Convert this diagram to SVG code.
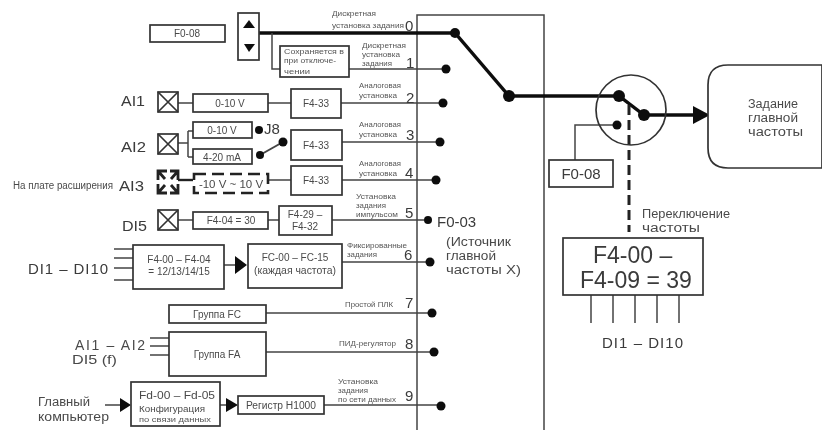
<svg xmlns="http://www.w3.org/2000/svg" width="822" height="430" viewBox="0 0 822 430">
<style>
text{font-family:"Liberation Sans",Arial,sans-serif;fill:#3a3a3a}
.s{font-size:7.5px;fill:#555}
.m{font-size:10px;fill:#4a4a4a}
.l{font-size:15px;fill:#3a3a3a}
.c{font-size:12px;fill:#4a4a4a}
.b{fill:#fff;stroke:#333;stroke-width:1.7}
.d{fill:#fff;stroke:#222;stroke-width:2.6;stroke-dasharray:12 6}
.w{fill:none;stroke:#444;stroke-width:1.5}
.t{fill:none;stroke:#111;stroke-width:3.4}
.x{fill:none;stroke:#333;stroke-width:1.7}
.dot{fill:#111}
.a{fill:#111}
</style>
<defs><filter id="soft" x="0" y="0" width="100%" height="100%"><feGaussianBlur stdDeviation="0.55"/></filter></defs>
<rect width="822" height="430" fill="#fff"/>
<g filter="url(#soft)">
<g id="connectors">
<path class="w" d="M417 430V15H544V430"/>
<path class="t" d="M256 33H455L509 96H619L644 115H696"/>
<path class="a" d="M693 106L710 115L693 124Z"/>
<path class="w" d="M272 33V69H280M349 69H445M178 103H193M268 103H291M341 103H443M178 143H188M188 131V157M188 131H193M188 157H193M342 142H440M268 180H291M342 180H436M178 220H193M268 220H279M332 220H428M114 249H133M114 258H133M114 268H133M114 280H133M224 265H237M342 262H430M266 313H432M150 338H169M150 346H169M150 355H169M266 352H434M105 405H120M220 405H228M324 405H441M617 125H575V160"/>
<path class="w" d="M591 295V323M613 295V323M635 295V323M657 295V323M679 295V323"/>
<path class="w" style="stroke-width:2" d="M260 155L283 142"/>
<path d="M178 180H193" fill="none" stroke="#222" stroke-width="2.4"/>
<path d="M629 105V232" fill="none" stroke="#222" stroke-width="3" stroke-dasharray="10 5"/>
<path class="a" d="M235 256L247 265L235 274ZM120 398L131 405L120 412ZM226 398L238 405L226 412Z"/>
<circle class="x" cx="631" cy="110" r="35"/>
</g>
<g id="dots">
<circle class="dot" cx="455" cy="33" r="5"/><circle class="dot" cx="446" cy="69" r="4.5"/><circle class="dot" cx="443" cy="103" r="4.5"/><circle class="dot" cx="440" cy="142" r="4.5"/><circle class="dot" cx="436" cy="180" r="4.5"/><circle class="dot" cx="428" cy="220" r="4"/><circle class="dot" cx="430" cy="262" r="4.5"/><circle class="dot" cx="432" cy="313" r="4.5"/><circle class="dot" cx="434" cy="352" r="4.5"/><circle class="dot" cx="441" cy="406" r="4.5"/>
<circle class="dot" cx="509" cy="96" r="6"/><circle class="dot" cx="619" cy="96" r="6"/><circle class="dot" cx="644" cy="115" r="6"/><circle class="dot" cx="617" cy="125" r="4.5"/>
<circle class="dot" cx="259" cy="130" r="4"/><circle class="dot" cx="260" cy="155" r="4"/><circle class="dot" cx="283" cy="142" r="4.5"/>
</g>
<g id="n-f008a"><rect class="b" x="150" y="25" width="75" height="17"/><text class="m" x="187" y="37" text-anchor="middle">F0-08</text></g>
<g id="n-updown"><rect class="b" x="238" y="13" width="21" height="47"/><path class="a" d="M249 20L255 28H243ZM249 52L244 44H255Z"/></g>
<g id="n-keep"><rect class="b" x="280" y="46" width="69" height="31"/><text class="s" x="284" y="54" textLength="60" lengthAdjust="spacingAndGlyphs">Сохраняется в</text><text class="s" x="284" y="63" textLength="52" lengthAdjust="spacingAndGlyphs">при отключе-</text><text class="s" x="284" y="74" textLength="26" lengthAdjust="spacingAndGlyphs">чении</text></g>
<g id="n-ai1"><text class="l" x="121" y="106" textLength="24" lengthAdjust="spacingAndGlyphs">AI1</text><rect class="b" x="158" y="92" width="20" height="20"/><path class="x" d="M158 92L178 112M178 92L158 112"/></g>
<g id="n-v1"><rect class="b" x="193" y="94" width="75" height="18"/><text class="m" x="230" y="107" text-anchor="middle">0-10 V</text></g>
<g id="n-f433a"><rect class="b" x="291" y="89" width="50" height="29"/><text class="m" x="316" y="107" text-anchor="middle">F4-33</text></g>
<g id="n-ai2"><text class="l" x="121" y="152" textLength="25" lengthAdjust="spacingAndGlyphs">AI2</text><rect class="b" x="158" y="134" width="20" height="20"/><path class="x" d="M158 134L178 154M178 134L158 154"/></g>
<g id="n-v2"><rect class="b" x="193" y="122" width="59" height="16"/><text class="m" x="222" y="134" text-anchor="middle">0-10 V</text></g>
<g id="n-ma"><rect class="b" x="193" y="149" width="59" height="15"/><text class="m" x="222" y="161" text-anchor="middle">4-20 mA</text></g>
<g id="n-j8"><text class="l" x="264" y="134">J8</text></g>
<g id="n-f433b"><rect class="b" x="291" y="130" width="51" height="30"/><text class="m" x="316" y="149" text-anchor="middle">F4-33</text></g>
<g id="n-ai3"><text class="m" x="13" y="189" textLength="100" lengthAdjust="spacingAndGlyphs">На плате расширения</text><text class="l" x="119" y="191" textLength="25" lengthAdjust="spacingAndGlyphs">AI3</text><path d="M158 180V171H167M178 180V171H170M158 184V193H167M178 184V193H170M158 171L165 179M178 171L171 179M158 193L165 185M178 193L171 185" fill="none" stroke="#222" stroke-width="2.8"/></g>
<g id="n-v3"><rect class="d" x="194" y="174" width="74" height="19"/><text class="m" x="231" y="188" text-anchor="middle" style="font-size:11.5px">-10 V ~ 10 V</text></g>
<g id="n-f433c"><rect class="b" x="291" y="166" width="51" height="29"/><text class="m" x="316" y="184" text-anchor="middle">F4-33</text></g>
<g id="n-di5"><text class="l" x="122" y="231" textLength="25" lengthAdjust="spacingAndGlyphs">DI5</text><rect class="b" x="158" y="210" width="20" height="20"/><path class="x" d="M158 210L178 230M178 210L158 230"/></g>
<g id="n-f404"><rect class="b" x="193" y="212" width="75" height="17"/><text class="m" x="231" y="224" text-anchor="middle">F4-04 = 30</text></g>
<g id="n-f429"><rect class="b" x="279" y="206" width="53" height="29"/><text class="m" x="305" y="218" text-anchor="middle">F4-29 –</text><text class="m" x="305" y="230" text-anchor="middle">F4-32</text></g>
<g id="n-di"><text class="l" x="28" y="274" textLength="80" lengthAdjust="spacing">DI1 – DI10</text></g>
<g id="n-f400"><rect class="b" x="133" y="245" width="91" height="44"/><text class="m" x="179" y="263" text-anchor="middle">F4-00 – F4-04</text><text class="m" x="179" y="275" text-anchor="middle">= 12/13/14/15</text></g>
<g id="n-fc"><rect class="b" x="248" y="244" width="94" height="44"/><text class="m" x="295" y="261" text-anchor="middle">FC-00 – FC-15</text><text class="m" x="295" y="274" text-anchor="middle" textLength="82" lengthAdjust="spacingAndGlyphs">(каждая частота)</text></g>
<g id="n-gfc"><rect class="b" x="169" y="305" width="97" height="18"/><text class="m" x="217" y="318" text-anchor="middle">Группа FC</text></g>
<g id="n-aidi"><text class="c" x="75" y="350" textLength="70" lengthAdjust="spacing" style="font-size:14px">AI1 – AI2</text><text class="c" x="72" y="364" textLength="45" lengthAdjust="spacingAndGlyphs" style="font-size:13px">DI5 (f)</text></g>
<g id="n-gfa"><rect class="b" x="169" y="332" width="97" height="44"/><text class="m" x="217" y="358" text-anchor="middle">Группа FA</text></g>
<g id="n-pc"><text class="c" x="38" y="406" textLength="52" lengthAdjust="spacingAndGlyphs">Главный</text><text class="c" x="38" y="421" textLength="71" lengthAdjust="spacingAndGlyphs">компьютер</text></g>
<g id="n-fd"><rect class="b" x="131" y="382" width="89" height="44"/><text class="m" x="139" y="399" textLength="76" lengthAdjust="spacingAndGlyphs" style="font-size:11px">Fd-00 – Fd-05</text><text class="m" x="139" y="412" textLength="66" lengthAdjust="spacingAndGlyphs" style="font-size:9.5px">Конфигурация</text><text class="s" x="139" y="422" textLength="72" lengthAdjust="spacingAndGlyphs">по связи данных</text></g>
<g id="n-h1000"><rect class="b" x="238" y="396" width="86" height="18"/><text class="m" x="281" y="409" text-anchor="middle" textLength="70" lengthAdjust="spacingAndGlyphs">Регистр H1000</text></g>
<g id="labels">
<text class="s" x="332" y="16" textLength="44" lengthAdjust="spacingAndGlyphs">Дискретная</text><text class="s" x="332" y="28" textLength="72" lengthAdjust="spacingAndGlyphs">установка задания</text><text class="l" x="405" y="31">0</text>
<text class="s" x="362" y="48" textLength="44" lengthAdjust="spacingAndGlyphs">Дискретная</text><text class="s" x="362" y="57" textLength="38" lengthAdjust="spacingAndGlyphs">установка</text><text class="s" x="362" y="66" textLength="30" lengthAdjust="spacingAndGlyphs">задания</text><text class="l" x="406" y="68">1</text>
<text class="s" x="359" y="88" textLength="42" lengthAdjust="spacingAndGlyphs">Аналоговая</text><text class="s" x="359" y="98" textLength="38" lengthAdjust="spacingAndGlyphs">установка</text><text class="l" x="406" y="103">2</text>
<text class="s" x="359" y="127" textLength="42" lengthAdjust="spacingAndGlyphs">Аналоговая</text><text class="s" x="359" y="137" textLength="38" lengthAdjust="spacingAndGlyphs">установка</text><text class="l" x="406" y="140">3</text>
<text class="s" x="359" y="166" textLength="42" lengthAdjust="spacingAndGlyphs">Аналоговая</text><text class="s" x="359" y="176" textLength="38" lengthAdjust="spacingAndGlyphs">установка</text><text class="l" x="405" y="178">4</text>
<text class="s" x="356" y="199" textLength="40" lengthAdjust="spacingAndGlyphs">Установка</text><text class="s" x="356" y="208" textLength="30" lengthAdjust="spacingAndGlyphs">задания</text><text class="s" x="356" y="217" textLength="42" lengthAdjust="spacingAndGlyphs">импульсом</text><text class="l" x="405" y="218">5</text>
<text class="s" x="347" y="248" textLength="60" lengthAdjust="spacingAndGlyphs">Фиксированные</text><text class="s" x="347" y="257" textLength="30" lengthAdjust="spacingAndGlyphs">задания</text><text class="l" x="404" y="260">6</text>
<text class="s" x="345" y="307" textLength="48" lengthAdjust="spacingAndGlyphs">Простой ПЛК</text><text class="l" x="405" y="308">7</text>
<text class="s" x="339" y="346" textLength="57" lengthAdjust="spacingAndGlyphs">ПИД-регулятор</text><text class="l" x="405" y="349">8</text>
<text class="s" x="338" y="384" textLength="40" lengthAdjust="spacingAndGlyphs">Установка</text><text class="s" x="338" y="393" textLength="30" lengthAdjust="spacingAndGlyphs">задания</text><text class="s" x="338" y="402" textLength="58" lengthAdjust="spacingAndGlyphs">по сети данных</text><text class="l" x="405" y="401">9</text>
<text class="l" x="437" y="227">F0-03</text>
<text class="c" x="446" y="246" textLength="65" lengthAdjust="spacingAndGlyphs">(Источник</text><text class="c" x="446" y="260" textLength="50" lengthAdjust="spacingAndGlyphs">главной</text><text class="c" x="446" y="274" textLength="75" lengthAdjust="spacingAndGlyphs">частоты X)</text>
</g>
<g id="n-out"><path class="b" d="M728 65H822V168H728Q708 168 708 148V85Q708 65 728 65Z"/><text class="c" x="748" y="108" textLength="50" lengthAdjust="spacingAndGlyphs">Задание</text><text class="c" x="748" y="122" textLength="50" lengthAdjust="spacingAndGlyphs">главной</text><text class="c" x="748" y="136" textLength="55" lengthAdjust="spacingAndGlyphs">частоты</text></g>
<g id="n-f008b"><rect class="b" x="549" y="160" width="64" height="27"/><text class="l" x="581" y="179" text-anchor="middle">F0-08</text></g>
<g id="n-sw"><text class="c" x="642" y="218" textLength="88" lengthAdjust="spacingAndGlyphs">Переключение</text><text class="c" x="642" y="232" textLength="58" lengthAdjust="spacingAndGlyphs">частоты</text></g>
<g id="n-f409"><rect class="b" x="563" y="238" width="140" height="57"/><text x="593" y="263" style="font-size:23px">F4-00 –</text><text x="580" y="288" style="font-size:23px">F4-09 = 39</text></g>
<g id="n-di2"><text class="l" x="602" y="348" textLength="81" lengthAdjust="spacing">DI1 – DI10</text></g>
</g>
</svg>
